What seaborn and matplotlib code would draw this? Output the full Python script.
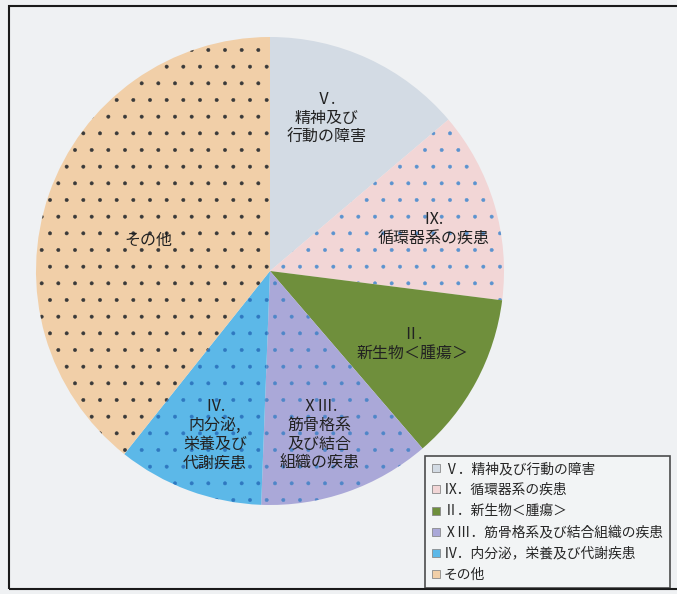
import matplotlib
matplotlib.use("Agg")
import matplotlib.pyplot as plt
import seaborn as sns
from matplotlib.lines import Line2D
from matplotlib.patches import Rectangle

# Data (shares, %)
categories = ["Ⅴ．精神及び行動の障害", "Ⅸ．循環器系の疾患", "Ⅱ．新生物＜腫瘍＞",
              "ⅩⅢ．筋骨格系及び結合組織の疾患", "Ⅳ．内分泌，栄養及び代謝疾患", "その他"]
slice_labels = ["Ⅴ.\n精神及び\n行動の障害", "Ⅸ.\n循環器系の疾患", "Ⅱ.\n新生物＜腫瘍＞",
                "ⅩⅢ.\n筋骨格系\n及び結合\n組織の疾患", "Ⅳ.\n内分泌,\n栄養及び\n代謝疾患", "その他"]
shares = [13.8, 13.2, 11.7, 11.9, 10.1, 39.3]

colors = ["#d3dbe4", "#f2d6d6", "#6f8f3c", "#aaa8d8", "#5cb8e8", "#f1cfa8"]
dot_colors = [None, "#5b93cf", None, "#4f86c8", "#2f78c0", "#3a3a3a"]
label_pos = [(0.24, 0.65), (0.70, 0.18), (0.61, -0.31), (0.21, -0.70), (-0.235, -0.70), (-0.52, 0.13)]

sns.set_theme(style="white")
plt.rcParams['font.family'] = ['Noto Sans CJK JP', 'DejaVu Sans']
plt.rcParams['hatch.linewidth'] = 0.35

fig = plt.figure(figsize=(6.77, 5.94), dpi=100, facecolor="#eff1f3")
ax = fig.add_axes([36 / 677, 1 - 505 / 594, 468 / 677, 468 / 594])
ax.set_facecolor("none")

wedges, _ = ax.pie(shares, colors=colors, startangle=90, counterclock=False,
                   wedgeprops=dict(linewidth=0))
for w, dc in zip(wedges, dot_colors):
    if dc is not None:
        w.set_edgecolor(dc)
        w.set_hatch(".")
        w.set_linewidth(0)

for txt, (x, y) in zip(slice_labels, label_pos):
    ax.text(x, y, txt, ha="center", va="center", fontsize=11.5, color="#222222",
            linespacing=1.15)

ax.set_xlim(-1, 1)
ax.set_ylim(-1, 1)
ax.set_aspect("equal")
ax.axis("off")

# outer frame (right side runs off the page)
fig.patches.append(Rectangle((9 / 677, 1 - 589 / 594), 680 / 677, 583 / 594,
                             transform=fig.transFigure, fill=False,
                             edgecolor="#1a1a1a", linewidth=1.5))

handles = [Line2D([], [], linestyle="none", marker="s", markersize=6,
                  markerfacecolor=c, markeredgecolor="#8a8a8a", markeredgewidth=0.6)
           for c in colors]
leg = fig.legend(handles, categories, loc="lower right",
                 bbox_to_anchor=(670 / 677, 1 - 588 / 594), borderaxespad=0,
                 fontsize=9.9, frameon=True, fancybox=False, handlelength=0.6,
                 handletextpad=0.3, labelspacing=0.52, borderpad=0.45)
leg.get_frame().set_edgecolor("#222222")
leg.get_frame().set_linewidth(1.2)
leg.get_frame().set_facecolor("#f4f5f6")

fig.savefig("out.png", dpi=100, facecolor=fig.get_facecolor())
